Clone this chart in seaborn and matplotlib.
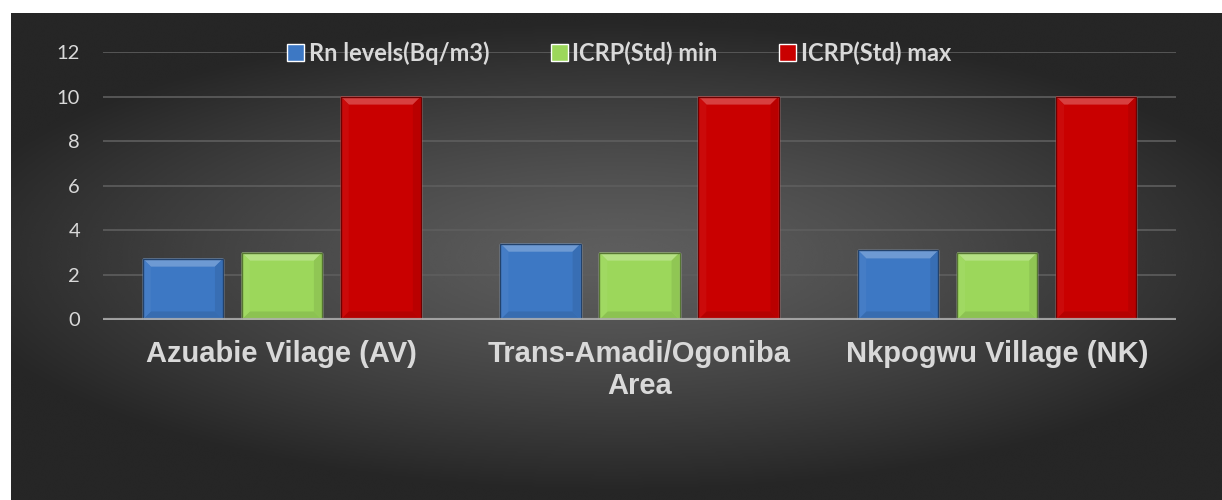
# bar chart of radon levels vs ICRP standard range, dark office-style theme
import numpy as np
import pandas as pd
import matplotlib.pyplot as plt
from matplotlib.patches import Polygon, Rectangle
import seaborn as sns

# chart data
sites = ['Azuabie Vilage (AV)', 'Trans-Amadi/Ogoniba\nArea', 'Nkpogwu Village (NK)']
series = ['Rn levels(Bq/m3)', 'ICRP(Std) min', 'ICRP(Std) max']
rn_levels = [2.73, 3.40, 3.10]
icrp_min = [3, 3, 3]
icrp_max = [10, 10, 10]
colors = ['#3d78c4', '#9cd75b', '#c90000']

# long-form table for seaborn
df = pd.DataFrame({
    'site': sites * 3,
    'series': np.repeat(series, len(sites)),
    'value': rn_levels + icrp_min + icrp_max,
})

sns.set_style('white')
plt.rcParams['font.family'] = ['Lato', 'DejaVu Sans']

W, H = 1222, 500
fig = plt.figure(figsize=(W / 100, H / 100), dpi=100, facecolor='white')

# dark radial gradient panel behind the chart
bg = fig.add_axes([11 / W, 0, 1 - 11 / W, 1 - 13 / H], zorder=-5)
yy, xx = np.mgrid[-1:1:300j, -1:1:700j]
r = np.sqrt((xx / 1.05) ** 2 + (yy / 0.9) ** 2)
shade = np.clip(0.37 - 0.2 * r ** 1.3, 0.15, 0.37)
bg.imshow(shade, cmap='gray', vmin=0, vmax=1, aspect='auto', interpolation='bicubic')
bg.axis('off')

ax = fig.add_axes([103 / W, 1 - 319.5 / H, (1176 - 103) / W, (319.5 - 52) / H])
ax.patch.set_alpha(0)

sns.barplot(data=df, x='site', y='value', hue='series', palette=colors,
            width=0.83, gap=0.19, saturation=1, ax=ax, zorder=2)

ax.set_ylim(0, 12)
ax.set_yticks(range(0, 13, 2))
ax.set_xlim(-0.5, 2.5)
ax.grid(axis='y', color='#5e5e5e', lw=1.2, zorder=0)
ax.set_axisbelow(True)
ax.axhline(0, color='#b0b0b0', lw=3, alpha=0.85, zorder=4)
sns.despine(ax=ax, left=True, bottom=True, top=True, right=True)
ax.set_xlabel('')
ax.set_ylabel('')
ax.tick_params(axis='y', length=0, pad=16.5, labelsize=14.5, labelcolor='#d9d9d9')
ax.tick_params(axis='x', length=0, pad=15)
for lbl in ax.get_xticklabels():
    lbl.set_fontfamily('Liberation Sans')
    lbl.set_fontweight('bold')
    lbl.set_fontsize(21)
    lbl.set_color('#d9d9d9')
    lbl.set_linespacing(1.15)


def mix(c, other, t):
    a = np.array(plt.matplotlib.colors.to_rgb(c))
    b = np.array(plt.matplotlib.colors.to_rgb(other))
    return tuple(a * (1 - t) + b * t)


# bevel look on each bar, built from the bar's own geometry
inv = ax.transData.inverted()
fig.canvas.draw()
bars = [p for p in ax.patches if isinstance(p, Rectangle) and p.get_height() > 0]
for p in bars:
    fc = p.get_facecolor()
    x0, y0 = p.get_x(), p.get_y()
    x1, y1 = x0 + p.get_width(), y0 + p.get_height()
    (dx0, dy0) = ax.transData.transform((x0, y0))
    (dx1, dy1) = ax.transData.transform((x1, y1))
    b = 8
    quads = {
        'top': [(dx0, dy1), (dx1, dy1), (dx1 - b, dy1 - b), (dx0 + b, dy1 - b)],
        'bottom': [(dx0, dy0), (dx1, dy0), (dx1 - b, dy0 + b), (dx0 + b, dy0 + b)],
        'left': [(dx0, dy0), (dx0, dy1), (dx0 + b, dy1 - b), (dx0 + b, dy0 + b)],
        'right': [(dx1, dy0), (dx1, dy1), (dx1 - b, dy1 - b), (dx1 - b, dy0 + b)],
    }
    tints = {'top': mix(fc, 'white', 0.25), 'bottom': mix(fc, 'black', 0.1),
             'left': mix(fc, 'white', 0.04), 'right': mix(fc, 'black', 0.08)}
    for side, pts in quads.items():
        ax.add_patch(Polygon(inv.transform(pts), closed=True, facecolor=tints[side],
                             edgecolor='none', zorder=3))
    ax.add_patch(Rectangle((x0, y0), x1 - x0, y1 - y0, fill=False,
                           edgecolor=mix(fc, 'black', 0.45), lw=1, zorder=3))

# legend across the top
handles, labels = ax.get_legend_handles_labels()
leg = fig.legend(handles, labels, loc='center', bbox_to_anchor=(619 / W, 1 - 53 / H),
                 ncol=3, frameon=False, handlelength=0.72, handleheight=0.72,
                 handletextpad=0.2, columnspacing=2.6,
                 prop={'family': 'Lato', 'weight': 'bold', 'size': 17})
for t in leg.get_texts():
    t.set_color('#d9d9d9')
ax.get_legend().remove()

fig.savefig('out.png', dpi=100, facecolor='white')
